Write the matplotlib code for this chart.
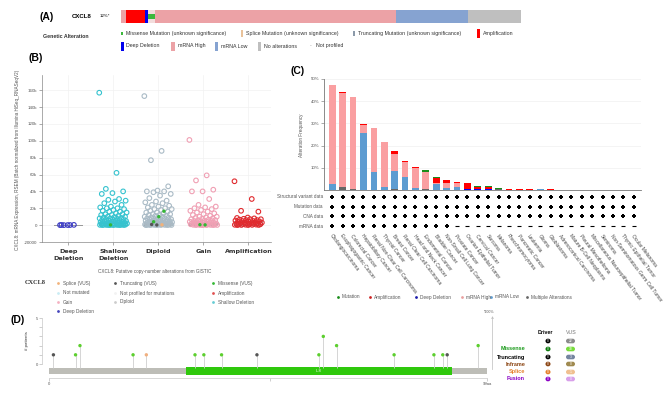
import numpy as np
import matplotlib.pyplot as plt
from matplotlib.patches import FancyBboxPatch, Rectangle

plt.rcParams['font.family'] = ['Liberation Sans', 'DejaVu Sans']

# (A) oncoprint strip, number of sample columns per block
onco_kind = ['mRNA High', 'Amplification', 'Deep Deletion', 'Missense',
             'mRNA High', 'mRNA Low', 'No alterations']
onco_samples = [5, 19, 3, 7, 241, 72, 53]

# (B) mRNA expression per copy-number group, values in thousands
cna_groups = ['Deep\nDeletion', 'Shallow\nDeletion', 'Diploid', 'Gain', 'Amplification']
deep_k = [0.04, 0.12, 0.02, 0.3, 0.08, 0.2]
shallow_k = [157, 62, 43, 40, 38, 37, 31, 30, 29, 28, 26, 24, 22, 21, 20, 20, 19, 18, 17,
             16, 16, 15, 14, 13, 13, 12, 12, 11, 10, 10, 9.5, 9, 8.5, 8, 8, 7.5, 7, 7,
             6.5, 6, 6, 5.5, 5, 5, 4.5, 4, 4, 3.5, 3.5, 3, 3, 2.5, 2.5, 2, 2, 2, 1.5,
             1.5, 1.2, 1, 1, 0.8, 0.8, 0.6, 0.5, 0.5, 0.4, 0.3, 0.3, 0.2, 0.2, 0.1,
             0.1, 0.05, 0.05, 0.02]
diploid_k = [153, 88, 77, 46, 41, 40, 40, 39, 37, 35, 32, 29, 28, 27, 26, 24, 23, 22, 21,
             20, 19, 19, 18, 17, 16, 15, 15, 14, 13, 13, 12, 12, 11, 11, 10, 10, 9, 9,
             8.5, 8, 8, 7.5, 7, 7, 6.5, 6, 6, 5.5, 5, 5, 4.5, 4.5, 4, 4, 3.5, 3.5, 3,
             3, 2.5, 2.5, 2, 2, 2, 1.5, 1.5, 1.2, 1, 1, 0.8, 0.8, 0.6, 0.5, 0.5, 0.4,
             0.3, 0.3, 0.2, 0.2, 0.1, 0.1, 0.05, 0.02]
gain_k = [101, 59, 53, 42, 40, 40, 31, 24, 22, 21, 20, 19, 18, 17, 16, 15, 14, 13, 12,
          11, 10, 10, 9, 8.5, 8, 7.5, 7, 6.5, 6, 6, 5.5, 5, 5, 4.5, 4, 4, 3.5, 3, 3,
          2.5, 2.5, 2, 2, 1.5, 1.5, 1.2, 1, 1, 0.8, 0.6, 0.5, 0.5, 0.4, 0.3, 0.2, 0.2,
          0.1, 0.1, 0.05, 0.02]
amp_k = [52, 31, 17, 16, 9, 8.5, 8, 7.5, 7, 7, 6.5, 6, 6, 5.5, 5, 5, 4.5, 4, 4, 3.5, 3,
         3, 2.5, 2.5, 2, 2, 1.5, 1.5, 1.2, 1, 1, 0.8, 0.6, 0.5, 0.4, 0.3, 0.2, 0.2, 0.1,
         0.05]
box_q1 = [0.0, 0.1, 0.2, 0.2, 0.3]
box_med = [0.05, 0.5, 0.8, 0.8, 1.0]
box_q3 = [0.1, 2.5, 3.0, 3.0, 5.0]
mut_group = [1, 2, 2, 2, 2, 2, 2, 3, 3]
mut_value_k = [0.3, 16.5, 10, 4, 0.4, 0.2, 0.8, 0.3, 0.5]
mut_kind = ['Missense', 'Missense', 'Missense', 'Missense', 'Splice',
            'Truncating', 'Truncating', 'Missense', 'Missense']

# (C) alteration frequency (%) per cancer type
cancer_types = ['Cholangiocarcinoma', 'Esophagogastric Cancer', 'Colorectal Cancer',
                'Hepatobiliary Cancer', 'Renal Non-Clear Cell Carcinoma', 'Thyroid Cancer',
                'Breast Cancer', 'Renal Clear Cell Carcinoma', 'Head and Neck Cancer',
                'Endometrial Cancer', 'Bladder Cancer', 'Non-Small Cell Lung Cancer',
                'Prostate Cancer', 'Ovarian Epithelial Tumor', 'Cervical Cancer', 'Sarcoma',
                'Melanoma', 'Pheochromocytoma', 'Pancreatic Cancer', 'Leukemia', 'Glioma',
                'Glioblastoma', 'Adrenocortical Carcinoma', 'Mature B-Cell Neoplasms',
                'Pleural Mesothelioma', 'Miscellaneous Neuroepithelial Tumor', 'Seminoma',
                'Non-Seminomatous Germ Cell Tumor', 'Thymic Epithelial Tumor',
                'Ocular Melanoma']
freq_multiple = [0, 1.5, 0.4, 0, 0, 0, 0.3, 0, 0, 0.5, 0, 0, 0, 0, 0, 0, 0.45, 0, 0, 0,
                 0, 0, 0, 0, 0, 0, 0, 0, 0, 0]
freq_deep = [0, 0, 0, 0, 0, 0, 0, 0, 0, 0, 0, 0, 0, 0.3, 0.4, 0.3, 0, 0, 0, 0,
             0, 0, 0, 0, 0, 0, 0, 0, 0, 0]
freq_low = [2.7, 0, 0, 25.9, 8.2, 1.2, 8.1, 6.0, 0.8, 0, 2.7, 1.0, 1.5, 0, 0, 0, 0, 0, 0,
            0, 0.4, 0, 0, 0, 0, 0, 0, 0, 0, 0]
freq_high = [44.6, 42.2, 41.4, 3.6, 19.8, 20.5, 7.8, 6.6, 9.1, 7.6, 0.3, 2.2, 1.5, 0, 0,
             0, 0, 0, 0, 0, 0, 0, 0, 0, 0, 0, 0, 0, 0, 0]
freq_amp = [0, 0.3, 0, 0.4, 0, 0, 1.5, 0.6, 0.6, 0, 2.2, 1.2, 0.7, 2.7, 0.8, 1.0, 0, 0.6,
            0.6, 0.6, 0, 0.3, 0, 0, 0, 0, 0, 0, 0, 0]
freq_mut = [0, 0.3, 0, 0, 0, 0, 0, 0, 0, 1.0, 0.6, 0, 0, 0, 0.7, 0.6, 0.45, 0, 0, 0,
            0, 0, 0, 0, 0, 0, 0, 0, 0, 0]
data_rows = ['Structural variant data', 'Mutation data', 'CNA data', 'mRNA data']
mrna_profiled = 12   # first cancer types that have mRNA data

# (D) lollipop
protein_len = 99
domain = ('IL8', 31, 91)
mut_pos = [1, 6, 7, 19, 22, 33, 35, 39, 47, 61, 62, 65, 78, 87, 89, 90, 97]
mut_count = [1, 1, 2, 1, 1, 1, 1, 1, 1, 1, 3, 2, 1, 1, 1, 1, 2]
mut_type = ['Truncating', 'Missense', 'Missense', 'Missense', 'Splice', 'Missense',
            'Missense', 'Missense', 'Truncating', 'Missense', 'Missense', 'Missense',
            'Missense', 'Missense', 'Missense', 'Truncating', 'Missense']
legend_types = ['', 'Missense', 'Truncating', 'Inframe', 'Splice', 'Fusion']
driver_counts = [0, 0, 0, 0, 0, 0]
vus_counts = [22, 18, 3, 0, 1, 0]

W, H = 669, 395
fig = plt.figure(figsize=(W / 100, H / 100), dpi=100)


def px(x0, y0, x1, y1):
    return [x0 / W, 1 - y1 / H, (x1 - x0) / W, (y1 - y0) / H]


def jitter(n, width, phase=0.0):
    return ((np.arange(n) * 0.6180339887 + phase) % 1.0 - 0.5) * 2 * width


ov = fig.add_axes([0, 0, 1, 1], zorder=10)
ov.set_xlim(0, W)
ov.set_ylim(H, 0)
ov.axis('off')
txt = '#333333'
gtxt = '#555555'

# ---------------- (A)
onco_color = {'mRNA High': '#eca2a6', 'Amplification': '#ff0000', 'Deep Deletion': '#0000ee',
              'Missense': '#f3dcdc', 'mRNA Low': '#86a3d1', 'No alterations': '#bfbfbf'}
axA = fig.add_axes(px(121, 10, 521, 23))
left = np.concatenate([[0], np.cumsum(onco_samples)[:-1]])
for k, l, w in zip(onco_kind, left, onco_samples):
    axA.barh(0, w, left=l, height=1, color=onco_color[k], linewidth=0)
    if k == 'Missense':
        axA.barh(0, w, left=l, height=0.33, color='#3cb83c', linewidth=0)
axA.set_xlim(0, sum(onco_samples))
axA.set_ylim(-0.5, 0.5)
axA.axis('off')

ov.text(47, 17, '(A)', fontsize=7.5, fontweight='bold', ha='center', va='center')
ov.text(72, 17, 'CXCL8', fontsize=4.3, fontweight='bold', va='center')
ov.text(100, 16, '12%*', fontsize=3.2, va='center')
ov.text(43, 36, 'Genetic Alteration', fontsize=3.8, fontweight='bold', va='center', color=txt)
a_items = [(121, 33, 2, 3, '#3cb83c', 'Missense Mutation (unknown significance)'),
           (241, 33, 2, 7, '#e9c29a', 'Splice Mutation (unknown significance)'),
           (353, 33, 2, 5, '#8c9aaa', 'Truncating Mutation (unknown significance)'),
           (477, 33, 2.5, 9, '#ff0000', 'Amplification'),
           (121, 46, 2.5, 9, '#0000ee', 'Deep Deletion'),
           (171, 46, 4, 9, '#eca2a6', 'mRNA High'),
           (215, 46, 3, 9, '#86a3d1', 'mRNA Low'),
           (258, 46, 3, 9, '#bfbfbf', 'No alterations')]
for x, y, w, h, c, lab in a_items:
    ov.add_patch(Rectangle((x, y - h / 2), w, h, color=c, lw=0))
    ov.text(x + w + 3, y, lab, fontsize=3.8, va='center', color=txt)
ov.text(310, 46, '-', fontsize=3.8, va='center', color='#999')
ov.text(316, 46, 'Not profiled', fontsize=3.8, va='center', color=txt)

# ---------------- (B)
grp_color = ['#3b3bc4', '#36c3cf', '#aabbc6', '#f0a0b4', '#e02a2e']
mut_color = {'Missense': '#34b834', 'Splice': '#f2b27a', 'Truncating': '#555555'}
axB = fig.add_axes(px(42, 75, 271, 242))
for i, vals in enumerate([deep_k, shallow_k, diploid_k, gain_k, amp_k]):
    v = np.array(vals) * 1000
    w = 0.18 if i == 0 else 0.31
    axB.scatter(i + jitter(len(v), w), v, s=11, facecolors='none',
                edgecolors=grp_color[i], linewidths=0.8, zorder=3)
stats = [dict(q1=q1 * 1000, med=m * 1000, q3=q3 * 1000, whislo=q1 * 1000, whishi=q3 * 1000)
         for q1, m, q3 in zip(box_q1, box_med, box_q3)]
axB.bxp(stats, positions=range(5), widths=0.62, showfliers=False, showcaps=False,
        boxprops=dict(color='#9a9a9a', lw=0.6), medianprops=dict(color='#9a9a9a', lw=0.6),
        whiskerprops=dict(color='#9a9a9a', lw=0.6), manage_ticks=False, zorder=2)
mg = np.array(mut_group)
axB.scatter(mg + jitter(len(mg), 0.15, 0.3), np.array(mut_value_k) * 1000, s=6,
            c=[mut_color[k] for k in mut_kind], linewidths=0, zorder=4)
axB.set_xlim(-0.58, 4.5)
axB.set_ylim(-20000, 178000)
yt = np.arange(-20000, 160001, 20000)
axB.set_yticks(yt)
axB.set_yticklabels(['-20000', '0'] + ['%dk' % (t // 1000) for t in yt[2:]],
                    fontsize=3.2, color=gtxt)
axB.set_xticks(range(5))
axB.set_xticklabels(cna_groups, fontsize=4.6, fontweight='bold', color=txt,
                    family='DejaVu Sans', linespacing=1.5)
axB.tick_params(length=2, width=0.5, color='#888', pad=1.5)
axB.tick_params(axis='x', pad=3)
for s in ['top', 'right']:
    axB.spines[s].set_visible(False)
for s in ['left', 'bottom']:
    axB.spines[s].set_color('#888')
    axB.spines[s].set_linewidth(0.5)
axB.grid(color='#f2f2f2', lw=0.5)
axB.set_axisbelow(True)

ov.text(36, 58, '(B)', fontsize=7.5, fontweight='bold', ha='center', va='center')
ov.text(18, 160, 'CXCL8: mRNA Expression, RSEM (Batch normalized from Illumina HiSeq_RNASeqV2)',
        fontsize=3.3, rotation=90, ha='center', va='center', color=gtxt)
ov.text(155, 272, 'CXCL8: Putative copy-number alterations from GISTIC', fontsize=3.3,
        ha='center', va='center', color=gtxt)
ov.text(25, 283, 'CXCL8', fontsize=4.6, fontweight='bold', family='Liberation Serif',
        va='center', color=txt)
b_items = [(58, 283, '#f2b27a', 'Splice (VUS)'), (115, 283, '#555555', 'Truncating (VUS)'),
           (213, 283, '#34b834', 'Missense (VUS)'), (58, 293, '#c9ecf4', 'Not mutated'),
           (115, 293, '#f2f2f2', 'Not profiled for mutations'),
           (213, 293, '#e05050', 'Amplification'), (58, 302, '#f4b0c0', 'Gain'),
           (115, 302, '#cccccc', 'Diploid'), (213, 302, '#66ccd4', 'Shallow Deletion'),
           (58, 311, '#4444bb', 'Deep Deletion')]
for x, y, c, lab in b_items:
    ov.scatter(x, y, s=4, color=c, linewidths=0)
    ov.text(x + 5, y, lab, fontsize=3.4, va='center', color=gtxt)

# ---------------- (C)
c_colors = {'multiple': '#666666', 'deep': '#0000ff', 'low': '#5d9cd1',
            'high': '#fa9fa1', 'amp': '#ff0000', 'mut': '#1a8c1a'}
axC = fig.add_axes(px(324, 79, 641, 190))
xc = np.arange(len(cancer_types))
bottom = np.zeros(len(cancer_types))
for key, vals in [('multiple', freq_multiple), ('deep', freq_deep), ('low', freq_low),
                  ('high', freq_high), ('amp', freq_amp), ('mut', freq_mut)]:
    axC.bar(xc, vals, bottom=bottom, width=0.65, color=c_colors[key], linewidth=0)
    bottom += np.array(vals)
axC.set_xlim(-0.8, 29.7)
axC.set_ylim(0, 50)
axC.set_yticks(range(10, 51, 10))
axC.set_yticklabels(['%d%%' % v for v in range(10, 51, 10)], fontsize=3.2, color=gtxt)
axC.set_xticks([])
axC.tick_params(length=2, width=0.5, color='#888', pad=1)
for s in ['top', 'right']:
    axC.spines[s].set_visible(False)
for s in ['left', 'bottom']:
    axC.spines[s].set_color('#777')
    axC.spines[s].set_linewidth(0.6)
axC.grid(axis='y', color='#f0f0f0', lw=0.5)
axC.set_axisbelow(True)

axR = fig.add_axes(px(324, 192, 641, 231))
axR.set_xlim(-0.8, 29.7)
axR.set_ylim(3.5, -0.5)
axR.axis('off')
for r, lab in enumerate(data_rows):
    axR.text(-0.9, r, lab, fontsize=3.3, ha='right', va='center', color=gtxt)
    if r < 3:
        axR.scatter(xc, np.full(len(xc), r), marker='P', s=8, color='black', linewidths=0)
    else:
        axR.scatter(xc[:mrna_profiled], np.full(mrna_profiled, r), marker='P', s=8,
                    color='black', linewidths=0)
        axR.scatter(xc[mrna_profiled:], np.full(len(xc) - mrna_profiled, r), marker='_',
                    s=10, color='black', linewidths=0.8)
for i, name in enumerate(cancer_types):
    axR.text(i + 0.05, 3.75, name, fontsize=3.5, rotation=-53, rotation_mode='anchor',
             ha='left', va='top', color='#444')

ov.text(298, 71, '(C)', fontsize=7.5, fontweight='bold', ha='center', va='center')
ov.text(301, 135, 'Alteration Frequency', fontsize=3.3, rotation=90, ha='center',
        va='center', color=gtxt)
c_items = [(338, '#1a8c1a', 'Mutation'), (370, '#cc2222', 'Amplification'),
           (416, '#1a1aaa', 'Deep Deletion'), (462, '#e9a0a0', 'mRNA High'),
           (491, '#5d9cd1', 'mRNA Low'), (527, '#666666', 'Multiple Alterations')]
for x, c, lab in c_items:
    ov.scatter(x, 297, s=4, color=c, linewidths=0)
    ov.text(x + 4, 297, lab, fontsize=3.4, va='center', color=gtxt)

# ---------------- (D)
lp_color = {'Missense': '#5ccf2e', 'Truncating': '#555555', 'Splice': '#f0b080'}
axD = fig.add_axes(px(49, 318, 487, 378))
axD.spines['left'].set_position(('outward', 5))
axD.set_xlim(0, protein_len)
axD.set_ylim(-1.52, 5)
axD.add_patch(Rectangle((0, -1.09), protein_len, 0.66, color='#bdbdb7', lw=0))
dname, d0, d1 = domain
axD.add_patch(Rectangle((d0, -1.2), d1 - d0, 0.88, color='#2fc80c', lw=0))
axD.text((d0 + d1) / 2, -0.76, dname, fontsize=3, color='white', ha='center', va='center')
axD.vlines(mut_pos, -0.43, mut_count, color='#cfcfcf', lw=0.6, zorder=1)
axD.scatter(mut_pos, mut_count, s=6, c=[lp_color[t] for t in mut_type], linewidths=0,
            zorder=3)
axD.set_yticks(range(6))
axD.set_yticklabels(['0', '', '', '', '', '5'], fontsize=3, color=gtxt)
axD.set_xticks([0, 50, protein_len])
axD.set_xticklabels(['0', '', '%daa' % protein_len], fontsize=3, color=gtxt)
axD.tick_params(length=2, width=0.5, color='#bbb', pad=1)
for s in ['top', 'right']:
    axD.spines[s].set_visible(False)
axD.spines['left'].set_bounds(0, 5)
axD.spines['bottom'].set_bounds(0, protein_len)
for s in ['left', 'bottom']:
    axD.spines[s].set_color('#c8c8c8')
    axD.spines[s].set_linewidth(0.5)
axD.patch.set_alpha(0)

ov.text(18, 320, '(D)', fontsize=7.5, fontweight='bold', ha='center', va='center')
ov.text(27, 341, '# patients', fontsize=3.2, rotation=90, ha='center', va='center',
        color=txt)
ov.plot([492, 492], [317, 369], color='#c8c8c8', lw=0.6)
ov.scatter(492, 317, marker='^', s=3, color='#999', linewidths=0)
ov.text(489, 312, '*100%', fontsize=2.6, ha='center', va='center', color=gtxt)

ov.text(545, 333, 'Driver', fontsize=3.8, fontweight='bold', ha='center', va='center')
ov.text(571, 333, 'VUS', fontsize=3.8, ha='center', va='center', color='#777')
drv_colors = ['#000000', '#0b7a0b', '#000000', '#8b4513', '#e5802b', '#8a00c4']
vus_colors = ['#8c8c8c', '#78dc3c', '#7585a0', '#a08a50', '#f0c090', '#d8a0ea']
lab_colors = ['#000000', '#1a9a1a', '#000000', '#8b4513', '#e5802b', '#8a00c4']
rows_y = [341, 349, 357, 364, 372, 379]
for y, lab, dc, vc, lc, nd, nv in zip(rows_y, legend_types, drv_colors, vus_colors,
                                      lab_colors, driver_counts, vus_counts):
    if lab:
        ov.text(525, y, lab, fontsize=4, fontweight='bold', ha='right', va='center', color=lc)
    ov.add_patch(FancyBboxPatch((545.5, y - 2.3), 5, 4.6, boxstyle='round,pad=0,rounding_size=2.3',
                                color=dc, lw=0))
    ov.text(548, y, str(nd), fontsize=2.4, color='white', ha='center', va='center')
    ov.add_patch(FancyBboxPatch((566, y - 2.3), 9, 4.6, boxstyle='round,pad=0,rounding_size=2.3',
                                color=vc, lw=0))
    ov.text(570.5, y, str(nv), fontsize=2.4, color='white', ha='center', va='center')

fig.savefig('out.png', dpi=100)
